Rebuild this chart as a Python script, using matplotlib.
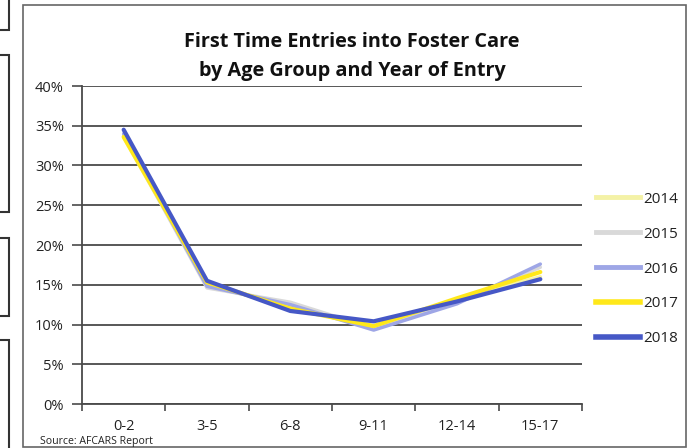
import matplotlib
matplotlib.use("Agg")
import matplotlib.pyplot as plt
from matplotlib.lines import Line2D
from matplotlib.patches import Rectangle
from matplotlib.ticker import FuncFormatter, MultipleLocator

plt.rcParams['font.family'] = ['Open Sans', 'DejaVu Sans']

age_groups = ["0-2", "3-5", "6-8", "9-11", "12-14", "15-17"]
years = ["2014", "2015", "2016", "2017", "2018"]
v2014 = [33.5, 15.0, 12.3, 9.8, 13.2, 16.0]
v2015 = [33.8, 14.6, 12.8, 9.5, 12.8, 17.2]
v2016 = [34.0, 14.8, 12.5, 9.3, 12.6, 17.6]
v2017 = [33.6, 15.3, 12.0, 9.8, 13.3, 16.6]
v2018 = [34.5, 15.5, 11.7, 10.4, 12.9, 15.7]
series = [v2014, v2015, v2016, v2017, v2018]

colors = ["#f4f2a6", "#d9d9d9", "#9ea6e6", "#ffe81a", "#4658c6"]
widths = [2.5, 2.5, 2.5, 3.0, 3.0]

fig = plt.figure(figsize=(6.88, 4.48), dpi=100)
fig.patch.set_facecolor("white")

W, H = 688, 448
def fx(x): return x / W
def fy(y): return 1 - y / H

ax = fig.add_axes([fx(82), fy(404), fx(582) - fx(82), fy(86) - fy(404)])
x = list(range(len(age_groups)))
for vals, c, lw, yr in zip(series, colors, widths, years):
    ax.plot(x, vals, color=c, lw=lw, solid_capstyle='round', label=yr, zorder=3)

ax.set_xlim(-0.5, len(age_groups) - 0.5)
ax.set_ylim(0, 40)
ax.yaxis.set_major_locator(MultipleLocator(5))
ax.yaxis.set_major_formatter(FuncFormatter(lambda v, p: f"{v:.0f}%"))
ax.grid(axis='y', color="#4a4a4a", lw=1.3, zorder=1)
ax.set_axisbelow(True)
ax.set_xticks(x)
ax.set_xticklabels(age_groups)
ax.set_xticks([i - 0.5 for i in range(len(age_groups) + 1)], minor=True)
ax.tick_params(axis='x', which='major', length=0, pad=11, labelsize=10.5, colors="#222222")
ax.tick_params(axis='x', which='minor', length=5, width=1.2, color="#4a4a4a")
ax.tick_params(axis='y', length=7, width=1.2, color="#4a4a4a", labelsize=10.5, labelcolor="#222222", pad=6)
for s in ['top', 'right']:
    ax.spines[s].set_visible(False)
for s in ['left', 'bottom']:
    ax.spines[s].set_color("#4a4a4a")
    ax.spines[s].set_linewidth(1.3)

fig.text(fx(352), fy(42), "First Time Entries into Foster Care", ha='center', va='center',
         fontsize=14.3, fontweight='bold', color="#111111")
fig.text(fx(352), fy(71), "by Age Group and Year of Entry", ha='center', va='center',
         fontsize=14.3, fontweight='bold', color="#111111")
fig.text(fx(40), fy(441), "Source: AFCARS Report", ha='left', va='center', fontsize=7.6, color="#222222")

handles = [Line2D([0], [0], color=c, lw=lw + 1) for c, lw in zip(colors, widths)]
fig.legend(handles, years, loc='center left', bbox_to_anchor=(fx(582), fy(269)),
           frameon=False, fontsize=11, handlelength=2.9, labelspacing=1.3, handletextpad=0.2,
           labelcolor="#222222")

# chart frame and scanned-page box fragments
fig.add_artist(Rectangle((fx(23), fy(447)), fx(686) - fx(23), fy(5) - fy(447),
                         transform=fig.transFigure, fill=False, ec="#666666", lw=1.2))
for (y0, y1) in [(-5, 30), (55, 212), (238, 316), (340, 460)]:
    fig.add_artist(Rectangle((fx(-5), fy(y1)), fx(14), fy(y0) - fy(y1),
                             transform=fig.transFigure, fill=False, ec="#333333", lw=1.5))

fig.savefig("out.png", dpi=100)
